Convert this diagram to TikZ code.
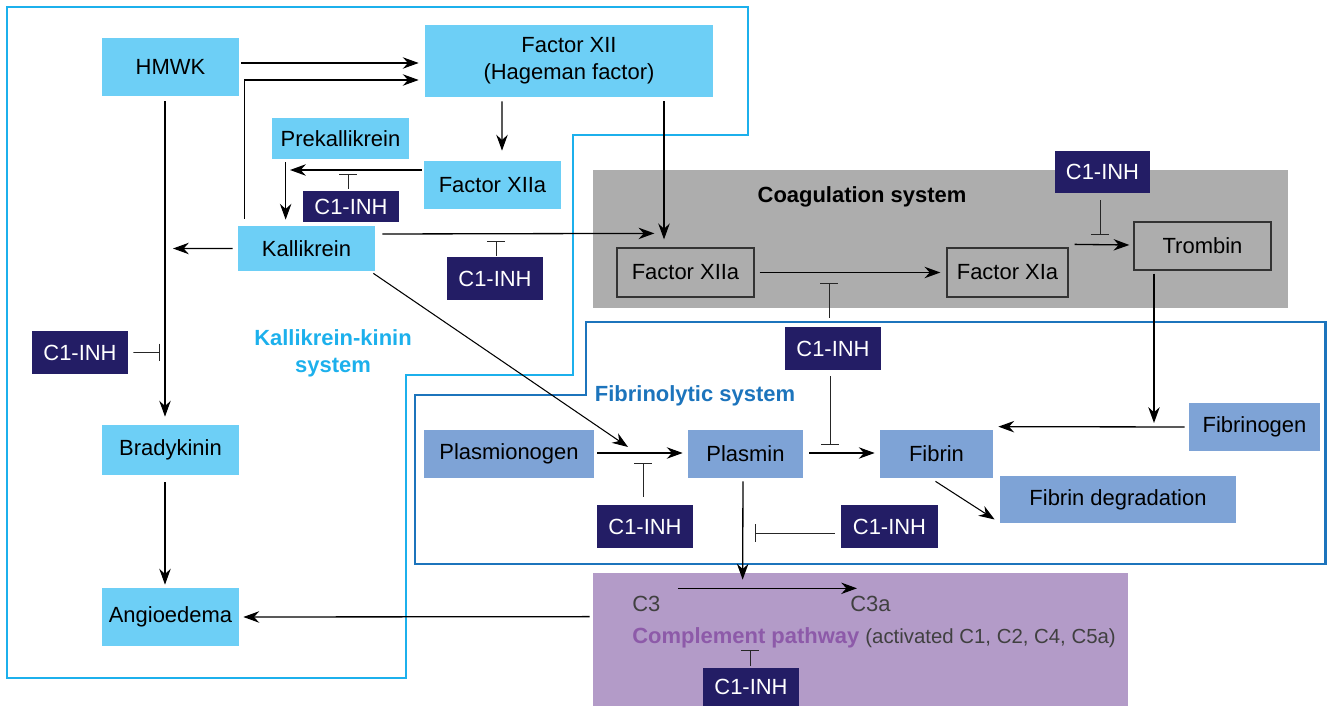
\documentclass[tikz,border=0pt]{standalone}
\usepackage{fontspec}
\setmainfont{Liberation Sans}
\usepackage{tikz}
\usetikzlibrary{fit}
\usetikzlibrary{arrows.meta}

\definecolor{kkblue}{HTML}{6DCFF6}
\definecolor{kkline}{HTML}{1CB0EC}
\definecolor{inhnavy}{HTML}{231D65}
\definecolor{fibline}{HTML}{1C74BC}
\definecolor{fibbox}{HTML}{7EA3D6}
\definecolor{coaggray}{HTML}{ADADAD}
\definecolor{complfill}{HTML}{B39BC8}
\definecolor{compltext}{HTML}{8D5AA9}
\newcommand{\nodesize}{\fontsize{12.5}{15.3}\selectfont}

\begin{document}
\begin{tikzpicture}[x=0.02cm, y=-0.02cm, font=\nodesize,
	kk/.style={fill=kkblue, inner sep=0pt},
	fb/.style={fill=fibbox, inner sep=0pt},
	cg/.style={draw=black!80, line width=0.7pt, inner sep=0pt},
	inh/.style={fill=inhnavy, inner sep=0pt, label={[text=white]center:C1-INH}},
	arr/.style={-{Stealth[length=9pt,width=6.5pt]}, line width=0.75pt},
	blk/.style={-{Bar[width=10pt]}, line width=0.5pt, draw=black!85}]
	\useasboundingbox (0,0) rectangle (1330,706);

	\node[fill=coaggray, inner sep=0pt, fit={(593,170) (1288,308)}] (coag) {};	% system areas
	\node[fill=complfill, inner sep=0pt, fit={(593,573) (1128,706)}] (compl) {};
	\draw[kkline, line width=1.7pt] (7,7) -- (748,7) -- (748,135) -- (573,135) -- (573,375) -- (406,375) -- (406,678) -- (7,678) -- cycle;
	\draw[fibline, line width=1.7pt] (415,395) -- (586,395) -- (586,322) -- (1325,322) -- (1325,564) -- (415,564) -- cycle;

	\node[font={\nodesize\bfseries}] (coaglab) at (862,197) {Coagulation system};	% area titles
	\node[font={\nodesize\bfseries}, text=fibline] (fiblab) at (695,396) {Fibrinolytic system};
	\node[font={\nodesize\bfseries}, text=kkline, align=center] (kklab) at (333,353) {Kallikrein-kinin\\system};

	\node[kk, fit={(102,38) (239,96)}, label=center:HMWK] (hmwk) {};	% kallikrein-kinin boxes
	\node[kk, fit={(425,25) (713,97)}, label={[align=center]center:Factor XII\\(Hageman factor)}] (f12) {};
	\node[kk, fit={(272,118) (409,159)}, label=center:Prekallikrein] (prek) {};
	\node[kk, fit={(424,161) (561,209)}, label=center:Factor XIIa] (f12a) {};
	\node[kk, fit={(238,226) (375,271)}, label=center:Kallikrein] (kal) {};
	\node[kk, fit={(102,425) (239,475)}, label=center:Bradykinin] (brady) {};
	\node[kk, fit={(102,588) (239,646)}, label=center:Angioedema] (angio) {};

	\node[cg, fit={(617,248) (754,297)}, label=center:Factor XIIa] (cf12a) {};	% coagulation boxes
	\node[cg, fit={(947,248) (1068,297)}, label=center:Factor XIa] (cf11a) {};
	\node[cg, fit={(1134,222) (1271,270)}, label=center:Trombin] (trb) {};

	\node[fb, fit={(424,430) (594,478)}, label=center:Plasmionogen] (plg) {};	% fibrinolytic boxes
	\node[fb, fit={(688,430) (803,478)}, label=center:Plasmin] (plm) {};
	\node[fb, fit={(880,430) (993,478)}, label=center:Fibrin] (fib) {};
	\node[fb, fit={(1189,403) (1320,451)}, label=center:Fibrinogen] (fbg) {};
	\node[fb, fit={(1000,476) (1236,523)}, label=center:Fibrin degradation] (fdeg) {};

	\node[anchor=base west, inner sep=0pt, text=black!75] (c3) at (632,611) {C3};	% complement texts
	\node[anchor=base west, inner sep=0pt, text=black!75] (c3a) at (850,611) {C3a};
	\node[anchor=base west, inner sep=0pt] (compltxt) at (632,643) {\textcolor{compltext}{\bfseries Complement pathway} \textcolor{black!75}{\fontsize{11.6}{13}\selectfont(activated C1, C2, C4, C5a)}};

	\node[inh, fit={(303,191) (399,222)}] (c1a) {};	% inhibitors
	\node[inh, fit={(447,257) (543,300)}] (c1b) {};
	\node[inh, fit={(32,331) (128,374)}] (c1c) {};
	\node[inh, fit={(597,505) (693,548)}] (c1d) {};
	\node[inh, fit={(785,327) (881,370)}] (c1e) {};
	\node[inh, fit={(841,505) (938,548)}] (c1g) {};
	\node[inh, fit={(1055,151) (1150,193)}] (c1h) {};
	\node[inh, fit={(703,668) (799,706)}] (c1i) {};

	\coordinate (kalL) at (173,248.5);	% free ends
	\coordinate (pkL) at (290,170);
	\coordinate (plIn) at (628,447);
	\coordinate (trJ) at (1154,423);
	\coordinate (inhA) at (348,174);
	\coordinate (inhB) at (496,241);
	\coordinate (inhC) at (160,352.5);
	\coordinate (inhD) at (643,463);
	\coordinate (inhE) at (830,445);
	\coordinate (inhF) at (829,283);
	\coordinate (inhG) at (755,533);
	\coordinate (inhH) at (1100,235);
	\coordinate (inhI) at (750,650);

	\draw[arr] ([shift={(2,-4)}]hmwk.east) -- ([shift={(-6,2)}]f12.west);	% activations
	\draw[arr] ([shift={(7,-7)}]kal.north west) |- ([shift={(-6,19)}]f12.west);
	\draw[arr] ([shift={(-5.5,5)}]hmwk.south) -- ([shift={(-5.5,-8)}]brady.north);
	\draw[arr] ([shift={(-5,0)}]kal.west) -- (kalL);
	\draw[arr] ([shift={(-2,-15)}]f12a.west) -- (pkL);
	\draw[arr] ([shift={(14,3)}]prek.south west) -- ([shift={(48,-6)}]kal.north west);
	\draw[arr] ([shift={(-67,4)}]f12.south) -- ([shift={(9.5,-10)}]f12a.north);
	\draw[arr] ([shift={(95,4)}]f12.south) -- ([shift={(-21.5,-8)}]cf12a.north);
	\draw[arr] ([shift={(7,-14.5)}]kal.east) -- ([shift={(38,-14)}]cf12a.north west);
	\draw[arr, line width=0.6pt] ([shift={(-2,2)}]kal.south east) -- (plIn);
	\draw[arr] ([shift={(3,-1)}]plg.east) -- ([shift={(-5,-1)}]plm.west);
	\draw[arr] ([shift={(6,-1)}]plm.east) -- ([shift={(-5,-1)}]fib.west);
	\draw[arr] ([shift={(-4,0)}]fbg.west) -- ([shift={(5,-3)}]fib.north east);
	\draw[arr] ([shift={(-48.5,3)}]trb.south) -- (trJ);
	\draw[arr, line width=0.6pt] ([shift={(-1,3)}]fib.south) -- ([shift={(-5,20)}]fdeg.west);
	\draw[arr] ([shift={(-2.5,3)}]plm.south) -- ([shift={(150,7)}]compl.north west);
	\draw[arr] ([shift={(17,-7)}]c3.north east) -- ([shift={(7,-7)}]c3a.north west);
	\draw[arr] ([shift={(-3,44)}]compl.north west) -- ([shift={(4,0)}]angio.east);
	\draw[arr] ([shift={(-5.5,7)}]brady.south) -- ([shift={(-5.5,-3)}]angio.north);
	\draw[arr] ([shift={(5,0)}]cf12a.east) -- ([shift={(-6,0)}]cf11a.west);
	\draw[arr] ([shift={(6,-3)}]cf11a.north east) -- ([shift={(-4,-1)}]trb.west);

	\draw[blk] ([shift={(-3,-2)}]c1a.north) -- (inhA);	% inhibitions
	\draw[blk] ([shift={(1,-1)}]c1b.north) -- (inhB);
	\draw[blk] ([shift={(5,0)}]c1c.east) -- (inhC);
	\draw[blk] ([shift={(-2,-8)}]c1d.north) -- (inhD);
	\draw[blk] ([shift={(-3,6)}]c1e.south) -- (inhE);
	\draw[blk] ([shift={(-4,-9)}]c1e.north) -- (inhF);
	\draw[blk] ([shift={(-6,6.5)}]c1g.west) -- (inhG);
	\draw[blk] ([shift={(-2.5,7)}]c1h.south) -- (inhH);
	\draw[blk] ([shift={(-1,-2)}]c1i.north) -- (inhI);
\end{tikzpicture}
\end{document}
